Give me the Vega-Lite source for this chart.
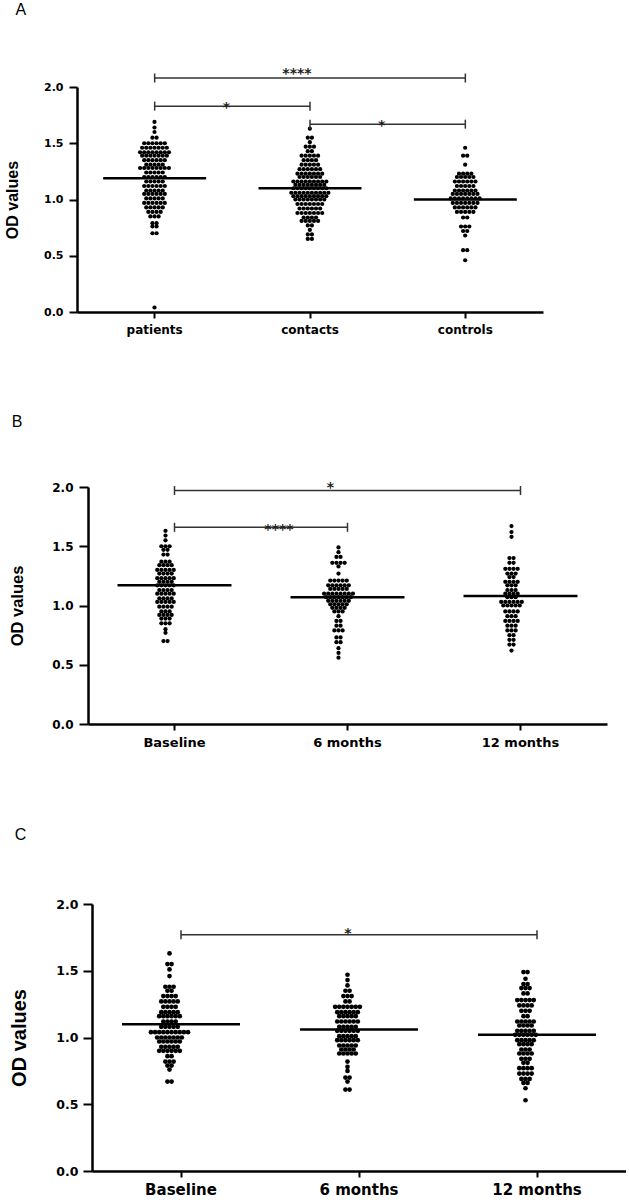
{
"$schema": "https://vega.github.io/schema/vega-lite/v6.json",
"background": "white",
"padding": {"left": 4, "top": 2, "right": 0, "bottom": 0},
"bounds": "full",
"spacing": 78,
"config": {
  "view": {"stroke": null},
  "axis": {"grid": false, "domainColor": "black", "tickColor": "black", "labelColor": "black", "titleColor": "black", "domainWidth": 2.5, "tickWidth": 2},
  "title": {"anchor": "start", "frame": "bounds", "font": "Liberation Sans", "fontWeight": "normal", "fontSize": 16, "color": "black"}
},
"datasets": {
"A": [
{"group":"patients","od":1.69},{"group":"patients","od":1.64},{"group":"patients","od":1.6},
{"group":"patients","od":1.55},{"group":"patients","od":1.55},
{"group":"patients","od":1.5},{"group":"patients","od":1.5},{"group":"patients","od":1.5},{"group":"patients","od":1.5},{"group":"patients","od":1.5},{"group":"patients","od":1.5},
{"group":"patients","od":1.46},{"group":"patients","od":1.46},{"group":"patients","od":1.46},{"group":"patients","od":1.46},{"group":"patients","od":1.46},{"group":"patients","od":1.46},{"group":"patients","od":1.46},
{"group":"patients","od":1.42},{"group":"patients","od":1.42},{"group":"patients","od":1.42},{"group":"patients","od":1.42},{"group":"patients","od":1.42},{"group":"patients","od":1.42},{"group":"patients","od":1.42},{"group":"patients","od":1.42},
{"group":"patients","od":1.39},{"group":"patients","od":1.39},{"group":"patients","od":1.39},{"group":"patients","od":1.39},{"group":"patients","od":1.39},{"group":"patients","od":1.39},{"group":"patients","od":1.39},
{"group":"patients","od":1.35},{"group":"patients","od":1.35},{"group":"patients","od":1.35},{"group":"patients","od":1.35},{"group":"patients","od":1.35},{"group":"patients","od":1.35},
{"group":"patients","od":1.31},{"group":"patients","od":1.31},{"group":"patients","od":1.31},{"group":"patients","od":1.31},{"group":"patients","od":1.31},
{"group":"patients","od":1.28},{"group":"patients","od":1.28},{"group":"patients","od":1.28},{"group":"patients","od":1.28},{"group":"patients","od":1.28},{"group":"patients","od":1.28},{"group":"patients","od":1.28},{"group":"patients","od":1.28},
{"group":"patients","od":1.24},{"group":"patients","od":1.24},{"group":"patients","od":1.24},{"group":"patients","od":1.24},{"group":"patients","od":1.24},
{"group":"patients","od":1.2},{"group":"patients","od":1.2},{"group":"patients","od":1.2},{"group":"patients","od":1.2},{"group":"patients","od":1.2},{"group":"patients","od":1.2},
{"group":"patients","od":1.16},{"group":"patients","od":1.16},{"group":"patients","od":1.16},{"group":"patients","od":1.16},{"group":"patients","od":1.16},
{"group":"patients","od":1.12},{"group":"patients","od":1.12},{"group":"patients","od":1.12},{"group":"patients","od":1.12},{"group":"patients","od":1.12},{"group":"patients","od":1.12},
{"group":"patients","od":1.08},{"group":"patients","od":1.08},{"group":"patients","od":1.08},{"group":"patients","od":1.08},{"group":"patients","od":1.08},
{"group":"patients","od":1.05},{"group":"patients","od":1.05},{"group":"patients","od":1.05},{"group":"patients","od":1.05},{"group":"patients","od":1.05},{"group":"patients","od":1.05},
{"group":"patients","od":1.01},{"group":"patients","od":1.01},{"group":"patients","od":1.01},{"group":"patients","od":1.01},{"group":"patients","od":1.01},
{"group":"patients","od":0.97},{"group":"patients","od":0.97},{"group":"patients","od":0.97},{"group":"patients","od":0.97},{"group":"patients","od":0.97},{"group":"patients","od":0.97},
{"group":"patients","od":0.93},{"group":"patients","od":0.93},{"group":"patients","od":0.93},{"group":"patients","od":0.93},{"group":"patients","od":0.93},
{"group":"patients","od":0.89},{"group":"patients","od":0.89},{"group":"patients","od":0.89},{"group":"patients","od":0.89},
{"group":"patients","od":0.85},{"group":"patients","od":0.85},{"group":"patients","od":0.85},
{"group":"patients","od":0.79},{"group":"patients","od":0.79},
{"group":"patients","od":0.76},{"group":"patients","od":0.76},
{"group":"patients","od":0.7},{"group":"patients","od":0.7},
{"group":"patients","od":0.04},
{"group":"contacts","od":1.63},
{"group":"contacts","od":1.55},{"group":"contacts","od":1.55},
{"group":"contacts","od":1.51},
{"group":"contacts","od":1.47},{"group":"contacts","od":1.47},{"group":"contacts","od":1.47},
{"group":"contacts","od":1.43},{"group":"contacts","od":1.43},
{"group":"contacts","od":1.39},{"group":"contacts","od":1.39},{"group":"contacts","od":1.39},{"group":"contacts","od":1.39},{"group":"contacts","od":1.39},
{"group":"contacts","od":1.35},{"group":"contacts","od":1.35},{"group":"contacts","od":1.35},{"group":"contacts","od":1.35},
{"group":"contacts","od":1.31},{"group":"contacts","od":1.31},{"group":"contacts","od":1.31},{"group":"contacts","od":1.31},{"group":"contacts","od":1.31},
{"group":"contacts","od":1.27},{"group":"contacts","od":1.27},{"group":"contacts","od":1.27},{"group":"contacts","od":1.27},{"group":"contacts","od":1.27},{"group":"contacts","od":1.27},
{"group":"contacts","od":1.23},{"group":"contacts","od":1.23},{"group":"contacts","od":1.23},{"group":"contacts","od":1.23},{"group":"contacts","od":1.23},{"group":"contacts","od":1.23},{"group":"contacts","od":1.23},
{"group":"contacts","od":1.2},{"group":"contacts","od":1.2},{"group":"contacts","od":1.2},{"group":"contacts","od":1.2},{"group":"contacts","od":1.2},{"group":"contacts","od":1.2},
{"group":"contacts","od":1.16},{"group":"contacts","od":1.16},{"group":"contacts","od":1.16},{"group":"contacts","od":1.16},{"group":"contacts","od":1.16},{"group":"contacts","od":1.16},{"group":"contacts","od":1.16},{"group":"contacts","od":1.16},{"group":"contacts","od":1.16},
{"group":"contacts","od":1.13},{"group":"contacts","od":1.13},{"group":"contacts","od":1.13},{"group":"contacts","od":1.13},{"group":"contacts","od":1.13},{"group":"contacts","od":1.13},{"group":"contacts","od":1.13},{"group":"contacts","od":1.13},
{"group":"contacts","od":1.1},{"group":"contacts","od":1.1},{"group":"contacts","od":1.1},{"group":"contacts","od":1.1},{"group":"contacts","od":1.1},{"group":"contacts","od":1.1},{"group":"contacts","od":1.1},{"group":"contacts","od":1.1},{"group":"contacts","od":1.1},
{"group":"contacts","od":1.06},{"group":"contacts","od":1.06},{"group":"contacts","od":1.06},{"group":"contacts","od":1.06},{"group":"contacts","od":1.06},{"group":"contacts","od":1.06},{"group":"contacts","od":1.06},{"group":"contacts","od":1.06},{"group":"contacts","od":1.06},{"group":"contacts","od":1.06},
{"group":"contacts","od":1.03},{"group":"contacts","od":1.03},{"group":"contacts","od":1.03},{"group":"contacts","od":1.03},{"group":"contacts","od":1.03},{"group":"contacts","od":1.03},{"group":"contacts","od":1.03},{"group":"contacts","od":1.03},{"group":"contacts","od":1.03},
{"group":"contacts","od":1.0},{"group":"contacts","od":1.0},{"group":"contacts","od":1.0},{"group":"contacts","od":1.0},{"group":"contacts","od":1.0},{"group":"contacts","od":1.0},{"group":"contacts","od":1.0},{"group":"contacts","od":1.0},
{"group":"contacts","od":0.96},{"group":"contacts","od":0.96},{"group":"contacts","od":0.96},{"group":"contacts","od":0.96},{"group":"contacts","od":0.96},{"group":"contacts","od":0.96},{"group":"contacts","od":0.96},
{"group":"contacts","od":0.92},{"group":"contacts","od":0.92},{"group":"contacts","od":0.92},{"group":"contacts","od":0.92},{"group":"contacts","od":0.92},{"group":"contacts","od":0.92},
{"group":"contacts","od":0.88},{"group":"contacts","od":0.88},{"group":"contacts","od":0.88},{"group":"contacts","od":0.88},{"group":"contacts","od":0.88},{"group":"contacts","od":0.88},{"group":"contacts","od":0.88},
{"group":"contacts","od":0.84},{"group":"contacts","od":0.84},{"group":"contacts","od":0.84},{"group":"contacts","od":0.84},
{"group":"contacts","od":0.81},{"group":"contacts","od":0.81},{"group":"contacts","od":0.81},{"group":"contacts","od":0.81},{"group":"contacts","od":0.81},
{"group":"contacts","od":0.77},{"group":"contacts","od":0.77},
{"group":"contacts","od":0.73},
{"group":"contacts","od":0.69},{"group":"contacts","od":0.69},
{"group":"contacts","od":0.65},{"group":"contacts","od":0.65},
{"group":"controls","od":1.46},
{"group":"controls","od":1.39},{"group":"controls","od":1.39},
{"group":"controls","od":1.31},
{"group":"controls","od":1.23},{"group":"controls","od":1.23},{"group":"controls","od":1.23},{"group":"controls","od":1.23},
{"group":"controls","od":1.2},{"group":"controls","od":1.2},{"group":"controls","od":1.2},{"group":"controls","od":1.2},{"group":"controls","od":1.2},
{"group":"controls","od":1.16},{"group":"controls","od":1.16},{"group":"controls","od":1.16},{"group":"controls","od":1.16},{"group":"controls","od":1.16},{"group":"controls","od":1.16},
{"group":"controls","od":1.12},{"group":"controls","od":1.12},{"group":"controls","od":1.12},{"group":"controls","od":1.12},{"group":"controls","od":1.12},
{"group":"controls","od":1.08},{"group":"controls","od":1.08},{"group":"controls","od":1.08},{"group":"controls","od":1.08},{"group":"controls","od":1.08},{"group":"controls","od":1.08},
{"group":"controls","od":1.05},{"group":"controls","od":1.05},{"group":"controls","od":1.05},{"group":"controls","od":1.05},{"group":"controls","od":1.05},{"group":"controls","od":1.05},{"group":"controls","od":1.05},
{"group":"controls","od":1.01},{"group":"controls","od":1.01},{"group":"controls","od":1.01},{"group":"controls","od":1.01},{"group":"controls","od":1.01},{"group":"controls","od":1.01},{"group":"controls","od":1.01},{"group":"controls","od":1.01},
{"group":"controls","od":0.97},{"group":"controls","od":0.97},{"group":"controls","od":0.97},{"group":"controls","od":0.97},{"group":"controls","od":0.97},{"group":"controls","od":0.97},{"group":"controls","od":0.97},
{"group":"controls","od":0.93},{"group":"controls","od":0.93},{"group":"controls","od":0.93},{"group":"controls","od":0.93},{"group":"controls","od":0.93},{"group":"controls","od":0.93},
{"group":"controls","od":0.89},{"group":"controls","od":0.89},{"group":"controls","od":0.89},{"group":"controls","od":0.89},{"group":"controls","od":0.89},
{"group":"controls","od":0.84},{"group":"controls","od":0.84},
{"group":"controls","od":0.76},{"group":"controls","od":0.76},{"group":"controls","od":0.76},
{"group":"controls","od":0.72},{"group":"controls","od":0.72},
{"group":"controls","od":0.68},
{"group":"controls","od":0.55},{"group":"controls","od":0.55},
{"group":"controls","od":0.46}
],
"B": [
{"group":"Baseline","od":1.63},{"group":"Baseline","od":1.59},{"group":"Baseline","od":1.55},
{"group":"Baseline","od":1.5},{"group":"Baseline","od":1.5},{"group":"Baseline","od":1.5},
{"group":"Baseline","od":1.47},{"group":"Baseline","od":1.47},
{"group":"Baseline","od":1.43},{"group":"Baseline","od":1.43},
{"group":"Baseline","od":1.37},{"group":"Baseline","od":1.37},{"group":"Baseline","od":1.37},
{"group":"Baseline","od":1.34},{"group":"Baseline","od":1.34},{"group":"Baseline","od":1.34},{"group":"Baseline","od":1.34},
{"group":"Baseline","od":1.3},{"group":"Baseline","od":1.3},{"group":"Baseline","od":1.3},{"group":"Baseline","od":1.3},{"group":"Baseline","od":1.3},
{"group":"Baseline","od":1.27},{"group":"Baseline","od":1.27},{"group":"Baseline","od":1.27},{"group":"Baseline","od":1.27},
{"group":"Baseline","od":1.23},{"group":"Baseline","od":1.23},{"group":"Baseline","od":1.23},{"group":"Baseline","od":1.23},{"group":"Baseline","od":1.23},
{"group":"Baseline","od":1.2},{"group":"Baseline","od":1.2},{"group":"Baseline","od":1.2},{"group":"Baseline","od":1.2},
{"group":"Baseline","od":1.17},{"group":"Baseline","od":1.17},{"group":"Baseline","od":1.17},{"group":"Baseline","od":1.17},{"group":"Baseline","od":1.17},
{"group":"Baseline","od":1.13},{"group":"Baseline","od":1.13},{"group":"Baseline","od":1.13},{"group":"Baseline","od":1.13},
{"group":"Baseline","od":1.1},{"group":"Baseline","od":1.1},{"group":"Baseline","od":1.1},{"group":"Baseline","od":1.1},{"group":"Baseline","od":1.1},
{"group":"Baseline","od":1.06},{"group":"Baseline","od":1.06},{"group":"Baseline","od":1.06},{"group":"Baseline","od":1.06},
{"group":"Baseline","od":1.03},{"group":"Baseline","od":1.03},{"group":"Baseline","od":1.03},{"group":"Baseline","od":1.03},{"group":"Baseline","od":1.03},
{"group":"Baseline","od":0.99},{"group":"Baseline","od":0.99},{"group":"Baseline","od":0.99},{"group":"Baseline","od":0.99},
{"group":"Baseline","od":0.95},{"group":"Baseline","od":0.95},{"group":"Baseline","od":0.95},
{"group":"Baseline","od":0.92},{"group":"Baseline","od":0.92},{"group":"Baseline","od":0.92},{"group":"Baseline","od":0.92},
{"group":"Baseline","od":0.89},{"group":"Baseline","od":0.89},{"group":"Baseline","od":0.89},
{"group":"Baseline","od":0.85},{"group":"Baseline","od":0.85},{"group":"Baseline","od":0.85},
{"group":"Baseline","od":0.8},{"group":"Baseline","od":0.77},
{"group":"Baseline","od":0.7},{"group":"Baseline","od":0.7},
{"group":"6 months","od":1.49},{"group":"6 months","od":1.45},
{"group":"6 months","od":1.41},{"group":"6 months","od":1.41},
{"group":"6 months","od":1.36},{"group":"6 months","od":1.36},{"group":"6 months","od":1.36},{"group":"6 months","od":1.36},
{"group":"6 months","od":1.33},{"group":"6 months","od":1.27},
{"group":"6 months","od":1.21},{"group":"6 months","od":1.21},{"group":"6 months","od":1.21},{"group":"6 months","od":1.21},{"group":"6 months","od":1.21},
{"group":"6 months","od":1.17},{"group":"6 months","od":1.17},{"group":"6 months","od":1.17},{"group":"6 months","od":1.17},{"group":"6 months","od":1.17},{"group":"6 months","od":1.17},
{"group":"6 months","od":1.14},{"group":"6 months","od":1.14},{"group":"6 months","od":1.14},{"group":"6 months","od":1.14},{"group":"6 months","od":1.14},
{"group":"6 months","od":1.1},{"group":"6 months","od":1.1},{"group":"6 months","od":1.1},{"group":"6 months","od":1.1},{"group":"6 months","od":1.1},{"group":"6 months","od":1.1},{"group":"6 months","od":1.1},{"group":"6 months","od":1.1},
{"group":"6 months","od":1.07},{"group":"6 months","od":1.07},{"group":"6 months","od":1.07},{"group":"6 months","od":1.07},{"group":"6 months","od":1.07},{"group":"6 months","od":1.07},{"group":"6 months","od":1.07},
{"group":"6 months","od":1.04},{"group":"6 months","od":1.04},{"group":"6 months","od":1.04},{"group":"6 months","od":1.04},{"group":"6 months","od":1.04},{"group":"6 months","od":1.04},
{"group":"6 months","od":1.01},{"group":"6 months","od":1.01},{"group":"6 months","od":1.01},{"group":"6 months","od":1.01},{"group":"6 months","od":1.01},
{"group":"6 months","od":0.98},{"group":"6 months","od":0.98},{"group":"6 months","od":0.98},{"group":"6 months","od":0.98},
{"group":"6 months","od":0.95},{"group":"6 months","od":0.95},{"group":"6 months","od":0.95},
{"group":"6 months","od":0.91},
{"group":"6 months","od":0.87},{"group":"6 months","od":0.87},
{"group":"6 months","od":0.83},{"group":"6 months","od":0.83},
{"group":"6 months","od":0.79},{"group":"6 months","od":0.79},{"group":"6 months","od":0.79},
{"group":"6 months","od":0.73},{"group":"6 months","od":0.73},
{"group":"6 months","od":0.69},{"group":"6 months","od":0.69},
{"group":"6 months","od":0.64},{"group":"6 months","od":0.6},{"group":"6 months","od":0.56},
{"group":"12 months","od":1.67},{"group":"12 months","od":1.62},{"group":"12 months","od":1.58},
{"group":"12 months","od":1.4},{"group":"12 months","od":1.4},
{"group":"12 months","od":1.36},{"group":"12 months","od":1.36},
{"group":"12 months","od":1.31},{"group":"12 months","od":1.31},{"group":"12 months","od":1.31},{"group":"12 months","od":1.31},
{"group":"12 months","od":1.27},{"group":"12 months","od":1.27},{"group":"12 months","od":1.27},
{"group":"12 months","od":1.24},{"group":"12 months","od":1.24},
{"group":"12 months","od":1.2},{"group":"12 months","od":1.2},{"group":"12 months","od":1.2},{"group":"12 months","od":1.2},
{"group":"12 months","od":1.17},{"group":"12 months","od":1.17},{"group":"12 months","od":1.17},
{"group":"12 months","od":1.13},{"group":"12 months","od":1.13},{"group":"12 months","od":1.13},
{"group":"12 months","od":1.1},{"group":"12 months","od":1.1},{"group":"12 months","od":1.1},{"group":"12 months","od":1.1},
{"group":"12 months","od":1.07},{"group":"12 months","od":1.07},{"group":"12 months","od":1.07},
{"group":"12 months","od":1.03},{"group":"12 months","od":1.03},{"group":"12 months","od":1.03},{"group":"12 months","od":1.03},{"group":"12 months","od":1.03},{"group":"12 months","od":1.03},
{"group":"12 months","od":1.0},{"group":"12 months","od":1.0},{"group":"12 months","od":1.0},{"group":"12 months","od":1.0},{"group":"12 months","od":1.0},
{"group":"12 months","od":0.95},{"group":"12 months","od":0.95},{"group":"12 months","od":0.95},{"group":"12 months","od":0.95},
{"group":"12 months","od":0.91},{"group":"12 months","od":0.91},{"group":"12 months","od":0.91},
{"group":"12 months","od":0.87},{"group":"12 months","od":0.87},{"group":"12 months","od":0.87},{"group":"12 months","od":0.87},
{"group":"12 months","od":0.83},{"group":"12 months","od":0.83},{"group":"12 months","od":0.83},
{"group":"12 months","od":0.79},{"group":"12 months","od":0.79},{"group":"12 months","od":0.79},
{"group":"12 months","od":0.75},{"group":"12 months","od":0.75},
{"group":"12 months","od":0.71},{"group":"12 months","od":0.71},
{"group":"12 months","od":0.67},{"group":"12 months","od":0.67},
{"group":"12 months","od":0.62}
],
"C": [
{"group":"Baseline","od":1.63},
{"group":"Baseline","od":1.55},{"group":"Baseline","od":1.55},
{"group":"Baseline","od":1.51},{"group":"Baseline","od":1.46},
{"group":"Baseline","od":1.38},{"group":"Baseline","od":1.38},{"group":"Baseline","od":1.38},
{"group":"Baseline","od":1.35},{"group":"Baseline","od":1.35},
{"group":"Baseline","od":1.31},{"group":"Baseline","od":1.31},{"group":"Baseline","od":1.31},{"group":"Baseline","od":1.31},
{"group":"Baseline","od":1.27},{"group":"Baseline","od":1.27},{"group":"Baseline","od":1.27},{"group":"Baseline","od":1.27},{"group":"Baseline","od":1.27},
{"group":"Baseline","od":1.23},{"group":"Baseline","od":1.23},{"group":"Baseline","od":1.23},{"group":"Baseline","od":1.23},
{"group":"Baseline","od":1.19},{"group":"Baseline","od":1.19},{"group":"Baseline","od":1.19},{"group":"Baseline","od":1.19},{"group":"Baseline","od":1.19},
{"group":"Baseline","od":1.16},{"group":"Baseline","od":1.16},{"group":"Baseline","od":1.16},{"group":"Baseline","od":1.16},{"group":"Baseline","od":1.16},{"group":"Baseline","od":1.16},
{"group":"Baseline","od":1.12},{"group":"Baseline","od":1.12},{"group":"Baseline","od":1.12},{"group":"Baseline","od":1.12},
{"group":"Baseline","od":1.08},{"group":"Baseline","od":1.08},{"group":"Baseline","od":1.08},{"group":"Baseline","od":1.08},{"group":"Baseline","od":1.08},
{"group":"Baseline","od":1.04},{"group":"Baseline","od":1.04},{"group":"Baseline","od":1.04},{"group":"Baseline","od":1.04},{"group":"Baseline","od":1.04},{"group":"Baseline","od":1.04},{"group":"Baseline","od":1.04},{"group":"Baseline","od":1.04},{"group":"Baseline","od":1.04},{"group":"Baseline","od":1.04},
{"group":"Baseline","od":1.0},{"group":"Baseline","od":1.0},{"group":"Baseline","od":1.0},{"group":"Baseline","od":1.0},{"group":"Baseline","od":1.0},{"group":"Baseline","od":1.0},{"group":"Baseline","od":1.0},
{"group":"Baseline","od":0.97},{"group":"Baseline","od":0.97},{"group":"Baseline","od":0.97},{"group":"Baseline","od":0.97},{"group":"Baseline","od":0.97},{"group":"Baseline","od":0.97},
{"group":"Baseline","od":0.93},{"group":"Baseline","od":0.93},{"group":"Baseline","od":0.93},{"group":"Baseline","od":0.93},{"group":"Baseline","od":0.93},
{"group":"Baseline","od":0.9},{"group":"Baseline","od":0.9},{"group":"Baseline","od":0.9},{"group":"Baseline","od":0.9},{"group":"Baseline","od":0.9},{"group":"Baseline","od":0.9},
{"group":"Baseline","od":0.86},{"group":"Baseline","od":0.86},
{"group":"Baseline","od":0.82},{"group":"Baseline","od":0.82},{"group":"Baseline","od":0.82},
{"group":"Baseline","od":0.79},{"group":"Baseline","od":0.79},
{"group":"Baseline","od":0.76},
{"group":"Baseline","od":0.67},{"group":"Baseline","od":0.67},
{"group":"6 months","od":1.47},{"group":"6 months","od":1.43},{"group":"6 months","od":1.39},
{"group":"6 months","od":1.35},{"group":"6 months","od":1.35},
{"group":"6 months","od":1.31},{"group":"6 months","od":1.31},{"group":"6 months","od":1.31},
{"group":"6 months","od":1.27},{"group":"6 months","od":1.27},
{"group":"6 months","od":1.23},{"group":"6 months","od":1.23},{"group":"6 months","od":1.23},{"group":"6 months","od":1.23},{"group":"6 months","od":1.23},{"group":"6 months","od":1.23},{"group":"6 months","od":1.23},
{"group":"6 months","od":1.19},{"group":"6 months","od":1.19},{"group":"6 months","od":1.19},{"group":"6 months","od":1.19},{"group":"6 months","od":1.19},{"group":"6 months","od":1.19},
{"group":"6 months","od":1.16},{"group":"6 months","od":1.16},{"group":"6 months","od":1.16},{"group":"6 months","od":1.16},{"group":"6 months","od":1.16},
{"group":"6 months","od":1.12},{"group":"6 months","od":1.12},{"group":"6 months","od":1.12},{"group":"6 months","od":1.12},{"group":"6 months","od":1.12},{"group":"6 months","od":1.12},
{"group":"6 months","od":1.08},{"group":"6 months","od":1.08},{"group":"6 months","od":1.08},{"group":"6 months","od":1.08},{"group":"6 months","od":1.08},
{"group":"6 months","od":1.05},{"group":"6 months","od":1.05},{"group":"6 months","od":1.05},{"group":"6 months","od":1.05},{"group":"6 months","od":1.05},{"group":"6 months","od":1.05},
{"group":"6 months","od":1.01},{"group":"6 months","od":1.01},{"group":"6 months","od":1.01},{"group":"6 months","od":1.01},{"group":"6 months","od":1.01},
{"group":"6 months","od":0.98},{"group":"6 months","od":0.98},{"group":"6 months","od":0.98},{"group":"6 months","od":0.98},{"group":"6 months","od":0.98},{"group":"6 months","od":0.98},
{"group":"6 months","od":0.94},{"group":"6 months","od":0.94},{"group":"6 months","od":0.94},{"group":"6 months","od":0.94},{"group":"6 months","od":0.94},
{"group":"6 months","od":0.91},{"group":"6 months","od":0.91},{"group":"6 months","od":0.91},{"group":"6 months","od":0.91},
{"group":"6 months","od":0.88},{"group":"6 months","od":0.88},{"group":"6 months","od":0.88},{"group":"6 months","od":0.88},{"group":"6 months","od":0.88},
{"group":"6 months","od":0.82},{"group":"6 months","od":0.78},{"group":"6 months","od":0.75},
{"group":"6 months","od":0.7},{"group":"6 months","od":0.7},
{"group":"6 months","od":0.67},
{"group":"6 months","od":0.61},{"group":"6 months","od":0.61},
{"group":"12 months","od":1.49},{"group":"12 months","od":1.49},
{"group":"12 months","od":1.44},
{"group":"12 months","od":1.4},{"group":"12 months","od":1.4},
{"group":"12 months","od":1.37},{"group":"12 months","od":1.37},{"group":"12 months","od":1.37},
{"group":"12 months","od":1.33},{"group":"12 months","od":1.33},
{"group":"12 months","od":1.28},{"group":"12 months","od":1.28},{"group":"12 months","od":1.28},{"group":"12 months","od":1.28},{"group":"12 months","od":1.28},
{"group":"12 months","od":1.24},{"group":"12 months","od":1.24},{"group":"12 months","od":1.24},{"group":"12 months","od":1.24},
{"group":"12 months","od":1.2},{"group":"12 months","od":1.2},{"group":"12 months","od":1.2},
{"group":"12 months","od":1.16},{"group":"12 months","od":1.16},
{"group":"12 months","od":1.12},{"group":"12 months","od":1.12},{"group":"12 months","od":1.12},{"group":"12 months","od":1.12},{"group":"12 months","od":1.12},
{"group":"12 months","od":1.09},{"group":"12 months","od":1.09},{"group":"12 months","od":1.09},{"group":"12 months","od":1.09},
{"group":"12 months","od":1.05},{"group":"12 months","od":1.05},{"group":"12 months","od":1.05},{"group":"12 months","od":1.05},{"group":"12 months","od":1.05},
{"group":"12 months","od":1.02},{"group":"12 months","od":1.02},{"group":"12 months","od":1.02},{"group":"12 months","od":1.02},{"group":"12 months","od":1.02},{"group":"12 months","od":1.02},
{"group":"12 months","od":0.98},{"group":"12 months","od":0.98},{"group":"12 months","od":0.98},{"group":"12 months","od":0.98},{"group":"12 months","od":0.98},
{"group":"12 months","od":0.95},{"group":"12 months","od":0.95},{"group":"12 months","od":0.95},{"group":"12 months","od":0.95},
{"group":"12 months","od":0.91},{"group":"12 months","od":0.91},{"group":"12 months","od":0.91},
{"group":"12 months","od":0.88},{"group":"12 months","od":0.88},{"group":"12 months","od":0.88},{"group":"12 months","od":0.88},
{"group":"12 months","od":0.84},{"group":"12 months","od":0.84},{"group":"12 months","od":0.84},
{"group":"12 months","od":0.81},{"group":"12 months","od":0.81},
{"group":"12 months","od":0.77},{"group":"12 months","od":0.77},{"group":"12 months","od":0.77},{"group":"12 months","od":0.77},
{"group":"12 months","od":0.73},{"group":"12 months","od":0.73},{"group":"12 months","od":0.73},{"group":"12 months","od":0.73},
{"group":"12 months","od":0.69},{"group":"12 months","od":0.69},{"group":"12 months","od":0.69},
{"group":"12 months","od":0.66},{"group":"12 months","od":0.66},
{"group":"12 months","od":0.62},
{"group":"12 months","od":0.53}
],
"meansA": [{"group":"patients","od":1.19},{"group":"contacts","od":1.1},{"group":"controls","od":1.0}],
"meansB": [{"group":"Baseline","od":1.17},{"group":"6 months","od":1.07},{"group":"12 months","od":1.08}],
"meansC": [{"group":"Baseline","od":1.1},{"group":"6 months","od":1.06},{"group":"12 months","od":1.02}],
"brA": [{"from":"patients","to":"controls","level":2.08,"label":"****"},{"from":"patients","to":"contacts","level":1.83,"label":"*"},{"from":"contacts","to":"controls","level":1.67,"label":"*"}],
"brB": [{"from":"Baseline","to":"12 months","level":1.97,"label":"*"},{"from":"Baseline","to":"6 months","level":1.66,"label":"****"}],
"brC": [{"from":"Baseline","to":"12 months","level":1.77,"label":"*"}]
},
"vconcat": [
{
 "title": {"text": "A", "offset": 49, "dx": 11},
 "width": 466, "height": 225,
 "layer": [
  {
   "data": {"name": "A"},
   "transform": [
     {"window": [{"op": "row_number", "as": "rank"}, {"op": "count", "as": "n"}], "groupby": ["group", "od"], "frame": [null, null]},
     {"calculate": "datum.rank - (datum.n + 1) / 2", "as": "swarm"}
   ],
   "mark": {"type": "circle", "color": "black", "opacity": 1, "size": 18},
   "encoding": {
     "x": {"field": "group", "type": "nominal", "scale": {"domain": ["patients", "contacts", "controls"], "paddingInner": 0, "paddingOuter": 0},
           "axis": {"title": null, "labelAngle": 0, "labelFont": "DejaVu Sans", "labelFontWeight": "bold", "labelFontSize": 12, "tickSize": 6, "labelPadding": 6}},
     "xOffset": {"field": "swarm", "type": "quantitative", "scale": {"domain": [-16.5, 16.5], "range": [0, 155]}},
     "y": {"field": "od", "type": "quantitative", "scale": {"domain": [0, 2]},
           "axis": {"title": "OD values", "values": [0, 0.5, 1, 1.5, 2], "format": ".1f", "labelFont": "DejaVu Sans", "labelFontWeight": "bold", "labelFontSize": 11, "tickSize": 8, "labelPadding": 6, "titleFont": "Liberation Sans", "titleFontSize": 16, "titleFontWeight": "bold", "titlePadding": 23}}
   }
  },
  {"data": {"name": "meansA"}, "mark": {"type": "tick", "color": "black", "opacity": 1, "size": 103, "thickness": 2.5}, "encoding": {"x": {"field": "group", "type": "nominal"}, "y": {"field": "od", "type": "quantitative"}}},
  {"data": {"name": "brA"}, "mark": {"type": "rule", "color": "#333333", "strokeWidth": 1.5}, "encoding": {"x": {"field": "from", "type": "nominal"}, "x2": {"field": "to"}, "y": {"field": "level", "type": "quantitative"}}},
  {"data": {"name": "brA"}, "transform": [{"fold": ["from", "to"], "as": ["end", "cat"]}], "mark": {"type": "tick", "orient": "vertical", "color": "#333333", "opacity": 1, "size": 9, "thickness": 1.5}, "encoding": {"x": {"field": "cat", "type": "nominal"}, "y": {"field": "level", "type": "quantitative"}}},
  {"data": {"name": "brA"}, "transform": [{"filter": "datum.from == 'patients' && datum.to == 'controls'"}], "mark": {"type": "text", "font": "DejaVu Sans", "fontSize": 14, "fontWeight": "bold", "baseline": "alphabetic", "dy": 0, "dx": -13, "color": "#222222"}, "encoding": {"x": {"datum": "contacts", "type": "nominal"}, "y": {"field": "level", "type": "quantitative"}, "text": {"field": "label"}}},
  {"data": {"name": "brA"}, "transform": [{"filter": "!(datum.from == 'patients' && datum.to == 'controls')"}], "mark": {"type": "text", "font": "DejaVu Sans", "fontSize": 14, "fontWeight": "bold", "baseline": "alphabetic", "dy": 6, "dx": -6, "color": "#222222"}, "encoding": {"x": {"field": "from", "type": "nominal", "bandPosition": 1}, "y": {"field": "level", "type": "quantitative"}, "text": {"field": "label"}}}
 ]
},
{
 "title": {"text": "B", "offset": 51, "dx": 2},
 "width": 530, "height": 237,
 "layer": [
  {
   "data": {"name": "B"},
   "transform": [
     {"window": [{"op": "row_number", "as": "rank"}, {"op": "count", "as": "n"}], "groupby": ["group", "od"], "frame": [null, null]},
     {"calculate": "datum.rank - (datum.n + 1) / 2", "as": "swarm"}
   ],
   "mark": {"type": "circle", "color": "black", "opacity": 1, "size": 18},
   "encoding": {
     "x": {"field": "group", "type": "nominal", "scale": {"domain": ["Baseline", "6 months", "12 months"], "paddingInner": 0, "paddingOuter": 0, "range": [11, 530]},
           "axis": {"title": null, "labelAngle": 0, "labelFont": "DejaVu Sans", "labelFontWeight": "bold", "labelFontSize": 13, "tickSize": 6, "labelPadding": 6}},
     "xOffset": {"field": "swarm", "type": "quantitative", "scale": {"domain": [-18.8, 18.8], "range": [0, 173]}},
     "y": {"field": "od", "type": "quantitative", "scale": {"domain": [0, 2]},
           "axis": {"title": "OD values", "offset": -11, "values": [0, 0.5, 1, 1.5, 2], "format": ".1f", "labelFont": "DejaVu Sans", "labelFontWeight": "bold", "labelFontSize": 12, "tickSize": 9, "labelPadding": 6, "titleFont": "Liberation Sans", "titleFontSize": 16.5, "titleFontWeight": "bold", "titlePadding": 26}}
   }
  },
  {"data": {"name": "meansB"}, "mark": {"type": "tick", "color": "black", "opacity": 1, "size": 114, "thickness": 2.5}, "encoding": {"x": {"field": "group", "type": "nominal"}, "y": {"field": "od", "type": "quantitative"}}},
  {"data": {"name": "brB"}, "mark": {"type": "rule", "color": "#333333", "strokeWidth": 1.5}, "encoding": {"x": {"field": "from", "type": "nominal"}, "x2": {"field": "to"}, "y": {"field": "level", "type": "quantitative"}}},
  {"data": {"name": "brB"}, "transform": [{"fold": ["from", "to"], "as": ["end", "cat"]}], "mark": {"type": "tick", "orient": "vertical", "color": "#333333", "opacity": 1, "size": 9, "thickness": 1.5}, "encoding": {"x": {"field": "cat", "type": "nominal"}, "y": {"field": "level", "type": "quantitative"}}},
  {"data": {"name": "brB"}, "transform": [{"filter": "datum.to == '12 months'"}], "mark": {"type": "text", "font": "DejaVu Sans", "fontSize": 14, "fontWeight": "bold", "baseline": "alphabetic", "dy": 1, "dx": -17, "color": "#222222"}, "encoding": {"x": {"datum": "6 months", "type": "nominal"}, "y": {"field": "level", "type": "quantitative"}, "text": {"field": "label"}}},
  {"data": {"name": "brB"}, "transform": [{"filter": "datum.to == '6 months'"}], "mark": {"type": "text", "font": "DejaVu Sans", "fontSize": 14, "fontWeight": "bold", "baseline": "alphabetic", "dy": 7, "dx": 18, "color": "#222222"}, "encoding": {"x": {"field": "from", "type": "nominal", "bandPosition": 1}, "y": {"field": "level", "type": "quantitative"}, "text": {"field": "label"}}}
 ]
},
{
 "title": {"text": "C", "offset": 55, "dx": 5},
 "width": 549, "height": 267,
 "layer": [
  {
   "data": {"name": "C"},
   "transform": [
     {"window": [{"op": "row_number", "as": "rank"}, {"op": "count", "as": "n"}], "groupby": ["group", "od"], "frame": [null, null]},
     {"calculate": "datum.rank - (datum.n + 1) / 2", "as": "swarm"}
   ],
   "mark": {"type": "circle", "color": "black", "opacity": 1, "size": 22},
   "encoding": {
     "x": {"field": "group", "type": "nominal", "scale": {"domain": ["Baseline", "6 months", "12 months"], "paddingInner": 0, "paddingOuter": 0, "range": [15, 549]},
           "axis": {"title": null, "labelAngle": 0, "labelFont": "DejaVu Sans", "labelFontWeight": "bold", "labelFontSize": 15, "tickSize": 6, "labelPadding": 5}},
     "xOffset": {"field": "swarm", "type": "quantitative", "scale": {"domain": [-16.2, 16.2], "range": [0, 178]}},
     "y": {"field": "od", "type": "quantitative", "scale": {"domain": [0, 2]},
           "axis": {"title": "OD values", "offset": -15, "values": [0, 0.5, 1, 1.5, 2], "format": ".1f", "labelFont": "DejaVu Sans", "labelFontWeight": "bold", "labelFontSize": 12.5, "tickSize": 9, "labelPadding": 5, "titleFont": "Liberation Sans", "titleFontSize": 20, "titleFontWeight": "bold", "titlePadding": 26}}
   }
  },
  {"data": {"name": "meansC"}, "mark": {"type": "tick", "color": "black", "opacity": 1, "size": 118, "thickness": 2.5}, "encoding": {"x": {"field": "group", "type": "nominal"}, "y": {"field": "od", "type": "quantitative"}}},
  {"data": {"name": "brC"}, "mark": {"type": "rule", "color": "#333333", "strokeWidth": 1.5}, "encoding": {"x": {"field": "from", "type": "nominal"}, "x2": {"field": "to"}, "y": {"field": "level", "type": "quantitative"}}},
  {"data": {"name": "brC"}, "transform": [{"fold": ["from", "to"], "as": ["end", "cat"]}], "mark": {"type": "tick", "orient": "vertical", "color": "#333333", "opacity": 1, "size": 9, "thickness": 1.5}, "encoding": {"x": {"field": "cat", "type": "nominal"}, "y": {"field": "level", "type": "quantitative"}}},
  {"data": {"name": "brC"}, "mark": {"type": "text", "font": "DejaVu Sans", "fontSize": 14, "fontWeight": "bold", "baseline": "alphabetic", "dy": 3, "dx": -11, "color": "#222222"}, "encoding": {"x": {"datum": "6 months", "type": "nominal"}, "y": {"field": "level", "type": "quantitative"}, "text": {"field": "label"}}}
 ]
}
]
}
